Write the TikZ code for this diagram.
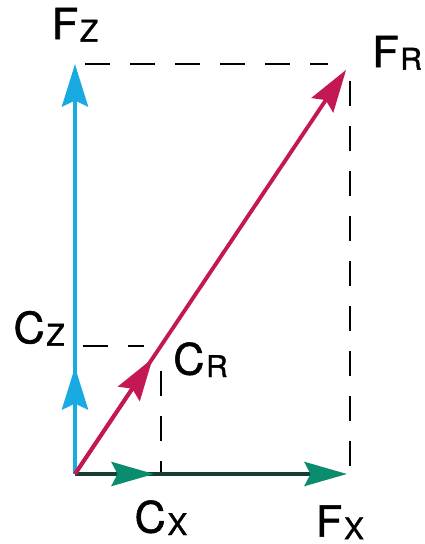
\documentclass[tikz,border=0pt]{standalone}
\usepackage{fontspec}
\setmainfont{TeX Gyre Heros}
\newfontfamily\labfont{TeX Gyre Heros}[FakeBold=1.2]
\usetikzlibrary{arrows.meta,positioning}

\definecolor{zblue}{RGB}{25,170,225}
\definecolor{rred}{RGB}{196,24,86}
\definecolor{xgreen}{RGB}{10,140,110}
\definecolor{xdark}{RGB}{20,62,50}

\newcommand{\forcelab}[2]{#1\kern0.04em\raisebox{-0.05cm}{\fontsize{17}{18}\selectfont #2}}

\tikzset{
    vec/.style={line width=2.5pt, -{Stealth[length=0.85cm,width=0.52cm,inset=0.12cm]}},
    gvec/.style={line width=2.4pt, draw=xdark, -{Stealth[length=0.85cm,width=0.48cm,inset=0.12cm,color=xgreen]}},
    guide/.style={line width=1.2pt, dash pattern=on 0.5cm off 0.4cm},
    lbl/.style={inner sep=0pt, font=\labfont\fontsize{24.5}{28}\selectfont}
}

\begin{document}
\begin{tikzpicture}
            \useasboundingbox (0,0) rectangle (8.48,10.88);
            \coordinate (Origin) at (1.5,1.4);
            \coordinate (ForceX) at (7.0,1.4);
            \coordinate (ForceZ) at (1.5,9.6);
            \coordinate (ForceR) at (7.0,9.6);
            \coordinate (CompX) at (3.22,1.4);
            \coordinate (CompZ) at (1.5,3.96);
            \coordinate (CompR) at (3.22,3.96);

            \draw[guide, shorten <=0.2cm, shorten >=0.45cm] (ForceZ)--(ForceR);
            \draw[guide, shorten <=0.35cm] (ForceR)--(ForceX);
            \draw[guide, shorten <=0.15cm, shorten >=0.35cm] (CompZ)--(CompR);
            \draw[guide, shorten <=0.5cm] (CompR)--(CompX);

            \draw[vec, zblue] (Origin)--(ForceZ);
            \draw[vec, zblue, shorten >=0.42cm] (Origin)--(CompZ);
            \draw[gvec, shorten >=0.06cm] (Origin)--(ForceX);
            \draw[gvec, shorten >=0.14cm] (Origin)--(CompX);
            \draw[vec, rred, line width=2.2pt, shorten >=0.14cm] (Origin)--(ForceR);
            \draw[vec, rred, line width=2.2pt, shorten >=0.3cm] (Origin)--(CompR);

            \node[lbl, above=0.44cm of ForceZ] (LabelFz) {\forcelab{F}{Z}};
            \node[lbl, above right=-0.12cm and 0.44cm of ForceR] (LabelFr) {\forcelab{F}{R}};
            \node[lbl, above left=0cm and 0.2cm of CompZ] (LabelCz) {\forcelab{C}{Z}};
            \node[lbl, below right=-0.08cm and 0.24cm of CompR] (LabelCr) {\forcelab{C}{R}};
            \node[lbl, below=0.52cm of CompX] (LabelCx) {\forcelab{C}{X}};
            \node[lbl, below=0.62cm of ForceX, xshift=-0.2cm] (LabelFx) {\forcelab{F}{X}};
        \end{tikzpicture}
\end{document}
